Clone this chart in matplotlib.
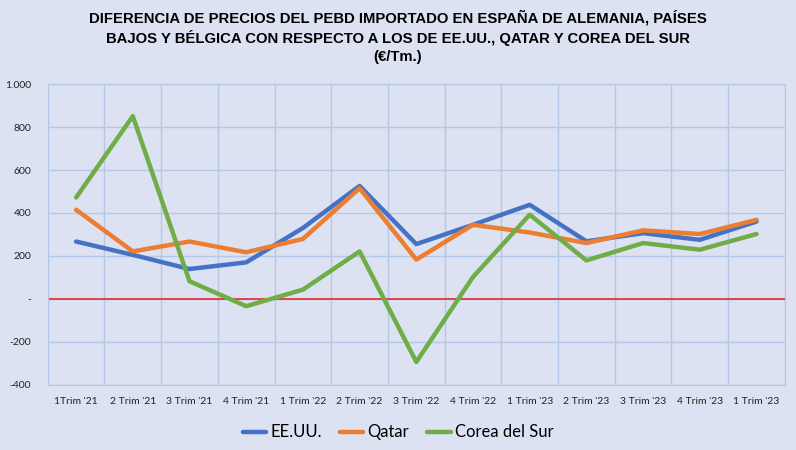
import matplotlib.pyplot as plt
import numpy as np
from matplotlib.ticker import FuncFormatter, FixedLocator

plt.rcParams['font.family'] = ['Lato', 'DejaVu Sans']

trimestres = ["1Trim '21", "2 Trim '21", "3 Trim '21", "4 Trim '21",
              "1 Trim '22", "2 Trim '22", "3 Trim '22", "4 Trim '22",
              "1 Trim '23", "2 Trim '23", "3 Trim '23", "4 Trim '23", "1 Trim '23"]
eeuu = [267, 205, 139, 170, 330, 526, 255, 345, 438, 268, 306, 275, 360]
qatar = [415, 221, 267, 217, 279, 515, 183, 345, 309, 260, 319, 302, 368]
corea = [472, 851, 82, -34, 43, 221, -294, 102, 392, 179, 260, 229, 302]

bg = '#DCE2F2'
fig = plt.figure(figsize=(7.96, 4.5), dpi=100, facecolor=bg)
ax = fig.add_axes([0.06, 0.145, 0.926, 0.668], facecolor=bg)

x = np.arange(len(trimestres))
ax.axhline(0, color='#E8282C', lw=1.2, zorder=1.5)
ax.plot(x, eeuu, color='#4472C4', lw=3.2, label='EE.UU.', solid_capstyle='round')
ax.plot(x, qatar, color='#ED7D31', lw=3.2, label='Qatar', solid_capstyle='round')
ax.plot(x, corea, color='#70AD47', lw=3.2, label='Corea del Sur', solid_capstyle='round')

ax.set_xlim(-0.5, len(trimestres) - 0.5)
ax.set_ylim(-400, 1000)
ax.set_yticks(np.arange(-400, 1001, 200))
ax.yaxis.set_major_formatter(FuncFormatter(
    lambda v, p: '-' if v == 0 else f'{int(v):,}'.replace(',', '.')))
ax.set_xticks(x)
ax.set_xticklabels(trimestres)
ax.xaxis.set_minor_locator(FixedLocator(np.arange(-0.5, len(trimestres), 1.0)))

ax.grid(axis='y', which='major', color='#B4C7E7', lw=1.0, zorder=0)
ax.grid(axis='x', which='minor', color='#B4C7E7', lw=1.0, zorder=0)
ax.grid(axis='x', which='major', visible=False)
ax.set_axisbelow(True)
for s in ax.spines.values():
    s.set_color('#B4C7E7')
ax.tick_params(axis='both', which='both', length=0, labelsize=7.5, colors='#222222')
ax.tick_params(axis='x', pad=9)
ax.tick_params(axis='y', pad=12)

fig.text(0.5, 0.977, "DIFERENCIA DE PRECIOS DEL PEBD IMPORTADO EN ESPAÑA DE ALEMANIA, PAÍSES\n"
         "BAJOS Y BÉLGICA CON RESPECTO A LOS DE EE.UU., QATAR Y COREA DEL SUR\n(€/Tm.)",
         ha='center', va='top', fontsize=10.7, fontweight='bold',
         family=['Liberation Sans', 'DejaVu Sans'], linespacing=1.33)

fig.legend(loc='lower center', bbox_to_anchor=(0.5, -0.012), ncol=3, frameon=False,
           fontsize=12, handlelength=1.4, handletextpad=0.25, columnspacing=1.1)

fig.savefig('out.png', dpi=100, facecolor=bg)
